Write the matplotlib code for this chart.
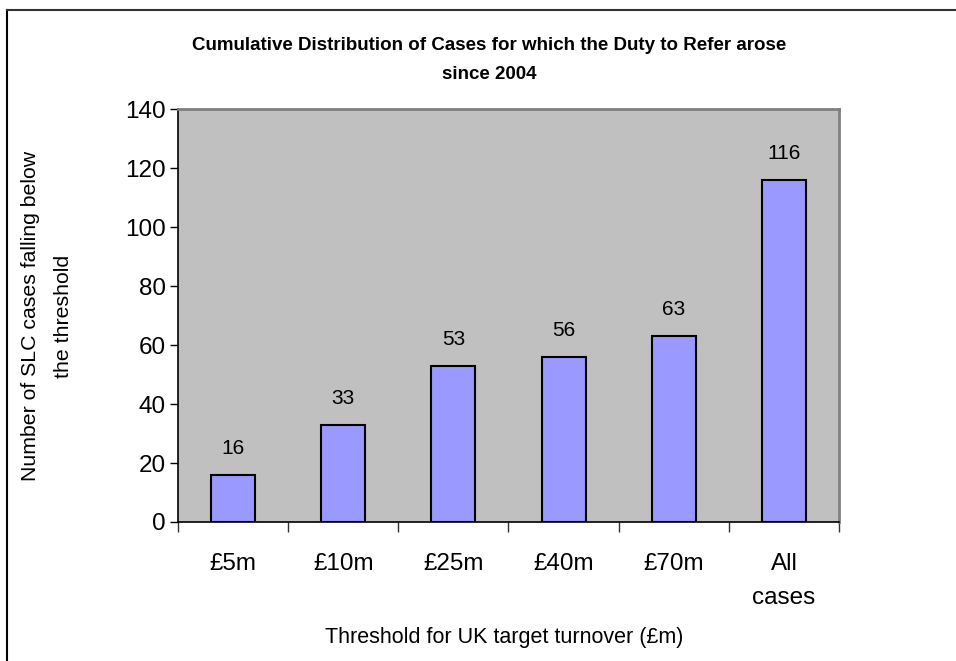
import matplotlib
matplotlib.use("Agg")
from matplotlib import pyplot as plt
from matplotlib.lines import Line2D

categories = ["£5m", "£10m", "£25m", "£40m", "£70m", "All\ncases"]
cases = [16, 33, 53, 56, 63, 116]
y_ticks = [0, 20, 40, 60, 80, 100, 120, 140]

plt.rcParams["font.family"] = ["Liberation Sans", "DejaVu Sans"]

W, H = 956, 661
fig = plt.figure(figsize=(W / 100, H / 100), dpi=100)
ax = fig.add_axes([178 / W, 1 - 522 / H, (839 - 178) / W, (522 - 109) / H])
ax.set_facecolor("#C0C0C0")

x = list(range(len(categories)))
ax.bar(x, cases, width=0.4, color="#9999FF", edgecolor="black", linewidth=1.5)
for xi, v in zip(x, cases):
    ax.annotate(str(v), (xi, v), xytext=(0, 19), textcoords="offset points",
                ha="center", va="center", fontsize=15)

ax.set_xlim(-0.5, len(categories) - 0.5)
ax.set_ylim(0, 140)
ax.set_yticks(y_ticks)
ax.tick_params(axis="y", labelsize=17.5, length=6, width=1, direction="out", pad=3)

# category labels between boundary ticks
ax.set_xticks([i + 0.5 for i in range(-1, len(categories))])
ax.set_xticklabels([])
ax.tick_params(axis="x", length=7, width=1, direction="out", color="#333333")
ax.set_xticks(x, minor=True)
ax.set_xticklabels(categories, minor=True, fontsize=17.5, linespacing=1.75)
ax.tick_params(axis="x", which="minor", length=0, pad=22)

for s in ["left", "bottom"]:
    ax.spines[s].set_color("black")
    ax.spines[s].set_linewidth(1.2)
for s in ["top", "right"]:
    ax.spines[s].set_color("#808080")
    ax.spines[s].set_linewidth(2)

fig.text(47 / W, 1 - 316 / H, "Number of SLC cases falling below\nthe threshold",
         fontsize=15.3, rotation=90, ha="center", va="center", linespacing=1.9,
         multialignment="center")
fig.text(504 / W, 1 - 637 / H, "Threshold for UK target turnover (£m)",
         fontsize=15.5, ha="center", va="center")
fig.text(489 / W, 1 - 60 / H,
         "Cumulative Distribution of Cases for which the Duty to Refer arose\nsince 2004",
         fontsize=13.5, fontweight="bold", ha="center", va="center", linespacing=1.95)

# outer chart frame (left and top edges visible)
fig.add_artist(Line2D([6.5 / W, 6.5 / W], [0, 1 - 9.5 / H], transform=fig.transFigure,
                      color="black", linewidth=1.5))
fig.add_artist(Line2D([6.5 / W, 1], [1 - 9.5 / H, 1 - 9.5 / H], transform=fig.transFigure,
                      color="#333333", linewidth=1.5))

fig.savefig("out.png", dpi=100)
